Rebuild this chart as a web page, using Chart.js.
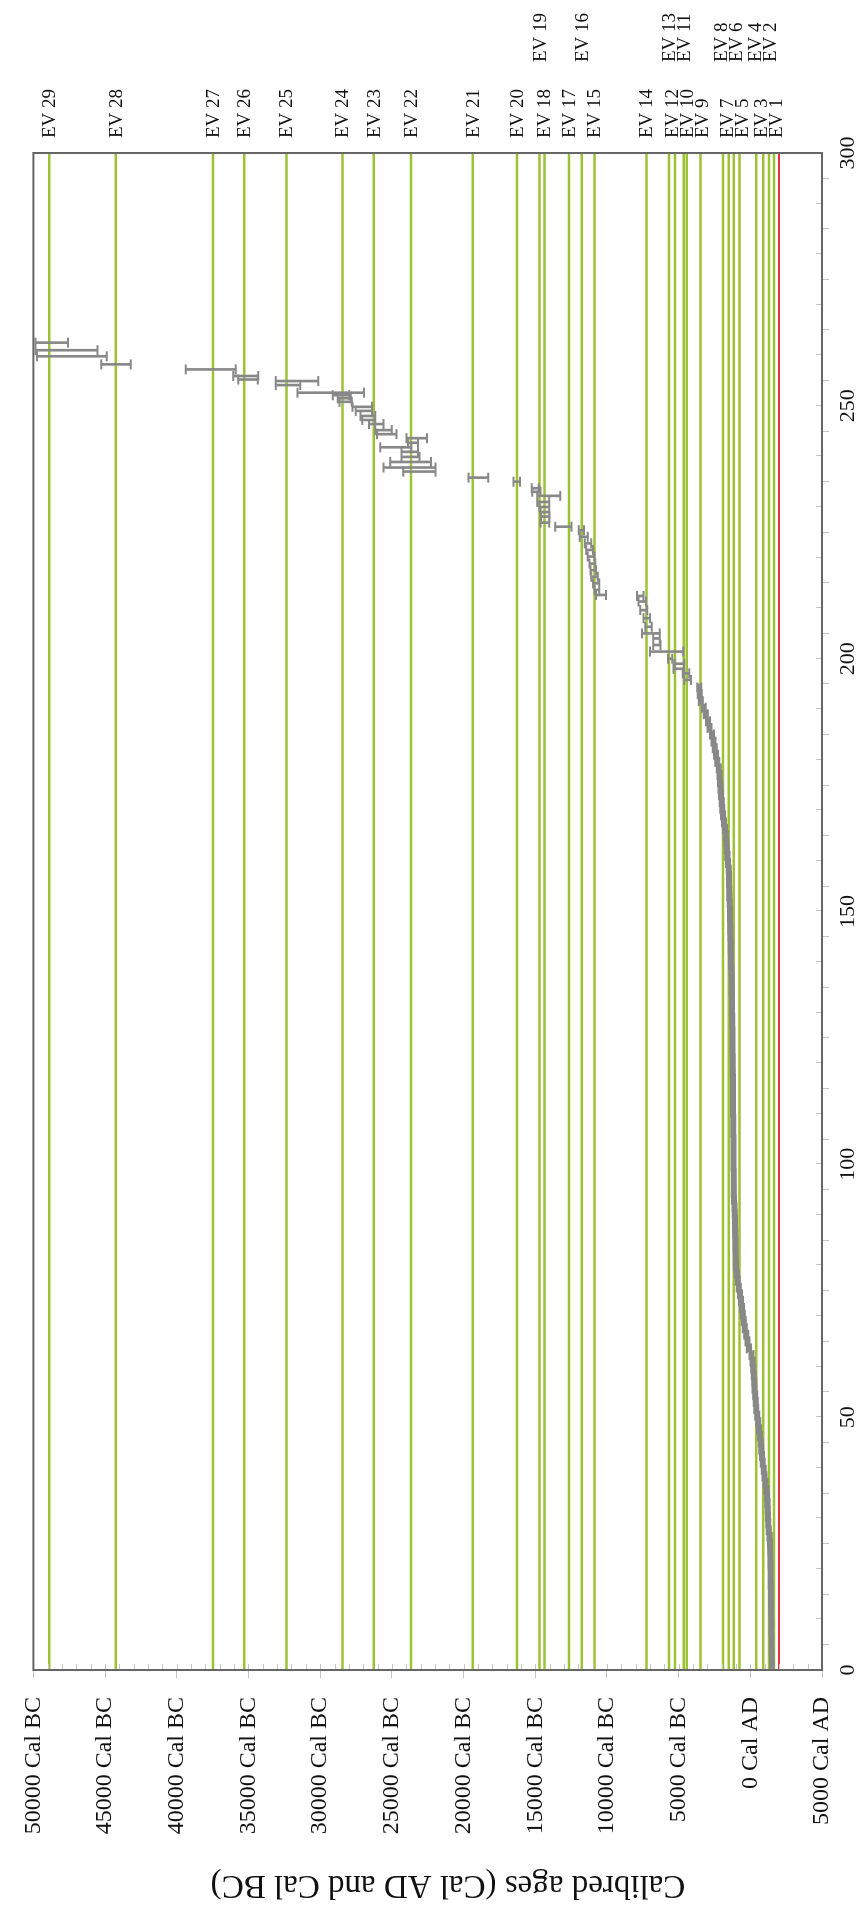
<!DOCTYPE html>
<html>
<head>
<meta charset="utf-8">
<script src="https://cdn.jsdelivr.net/npm/chart.js@4/dist/chart.umd.min.js"></script>
<style>
  html, body { margin: 0; padding: 0; overflow: hidden; background: #fff; width: 863px; height: 1908px; }
  #frame {
    position: absolute; left: 0; top: 0;
    width: 1908px; height: 863px;
    transform-origin: 0 0;
    transform: translateY(1908px) rotate(-90deg);
  }
</style>
</head>
<body>
<div id="frame"><canvas id="c" width="1908" height="863"></canvas></div>
<script>
// Core depth (cm) of each dated level and its calibrated age range.
// Ages are in years BC; negative values are years AD.
const depthCm = [
  1.0, 2.3, 3.6, 5.0, 6.3, 7.6, 9.0, 10.3, 11.6, 13.0, 14.3, 15.6, 17.0, 18.3, 19.6,
  21.0, 22.3, 23.6, 25.0, 26.3, 27.6, 29.0, 30.3, 31.6, 33.0, 34.3, 35.6, 37.0, 38.3, 39.6,
  41.0, 42.3, 43.6, 45.0, 46.3, 47.6, 49.0, 50.3, 51.6, 53.0, 54.3, 55.6, 57.0, 58.3, 59.6,
  61.0, 62.3, 63.6, 65.0, 66.3, 67.6, 69.0, 70.3, 71.6, 73.0, 74.3, 75.6, 77.0, 78.3, 79.6,
  81.0, 82.3, 83.6, 85.0, 86.3, 87.6, 89.0, 90.3, 91.6, 93.0, 94.3, 95.6, 97.0, 98.3, 99.6,
  101.0, 102.3, 103.6, 105.0, 106.3, 107.6, 109.0, 110.3, 111.6, 113.0, 114.3, 115.6, 117.0, 118.3, 119.6,
  121.0, 122.3, 123.6, 125.0, 126.3, 127.6, 129.0, 130.3, 131.6, 133.0, 134.3, 135.6, 137.0, 138.3, 139.6,
  141.0, 142.3, 143.6, 145.0, 146.3, 147.6, 149.0, 150.3, 151.6, 153.0, 154.3, 155.6, 157.0, 158.3, 159.6,
  161.0, 162.3, 163.6, 165.0, 166.3, 167.6, 169.0, 170.3, 171.6, 173.0, 174.3, 175.6, 177.0, 178.3, 179.6,
  181.0, 182.3, 183.6, 185.0, 186.3, 187.6, 189.0, 190.3, 191.6, 193.0, 194.3,
  195.8, 197.1, 198.0, 199.0, 200.0, 201.4, 202.7, 204.0, 205.0, 206.3,
  208.0, 209.6, 211.3, 212.4, 212.6, 213.6, 214.9, 216.2, 217.5, 218.8,
  220.2, 221.5, 222.8, 224.1, 225.4, 226.1, 226.9, 228.1, 229.0, 230.0,
  231.0, 232.2, 233.0, 233.7, 235.0, 235.8, 237.0, 237.8, 238.9, 239.9,
  240.9, 241.8, 242.7, 243.6, 244.4, 245.2, 246.4, 247.2, 248.0, 249.0,
  249.8, 250.8, 251.5, 252.1, 252.6, 254.1, 254.9, 255.2, 255.9, 257.2,
  258.2, 259.8, 261.0, 262.5
];
const ageOldest = [
  -1370, -1380, -1350, -1360, -1350, -1340, -1330, -1340, -1320, -1310, -1300, -1300, -1290, -1280, -1280,
  -1260, -1260, -1250, -1230, -1200, -1150, -1110, -1090, -1070, -1050, -1020, -980, -920, -850, -790,
  -730, -680, -630, -580, -530, -470, -410, -340, -280, -240, -200, -160, -130, -100, -60,
  -10, 60, 240, 340, 430, 520, 590, 660, 720, 790, 860, 940, 1020, 1090, 1130,
  1150, 1160, 1170, 1180, 1190, 1200, 1210, 1220, 1240, 1270, 1290, 1290, 1300, 1300, 1310,
  1310, 1320, 1320, 1320, 1330, 1330, 1330, 1340, 1340, 1340, 1350, 1350, 1350, 1360, 1370,
  1370, 1380, 1380, 1390, 1390, 1400, 1400, 1410, 1410, 1420, 1430, 1430, 1440, 1460, 1480,
  1490, 1500, 1510, 1520, 1530, 1540, 1550, 1560, 1580, 1600, 1610, 1620, 1630, 1650, 1690,
  1740, 1780, 1820, 1860, 1900, 1980, 2040, 2090, 2140, 2180, 2220, 2250, 2290, 2340, 2440,
  2540, 2620, 2700, 2820, 2990, 3090, 3240, 3390, 3590, 3670, 3700,
  4600, 4710, 5350, 5280, 5740, 6990, 6770, 6770, 7560, 7330,
  7450, 7680, 7790, 7900, 10760, 10870, 10980, 11100, 11140, 11210,
  11330, 11440, 11550, 11900, 11960, 13610, 14630, 14600, 14630, 14700,
  14860, 14860, 15200, 15250, 16520, 19650, 24210, 25580, 25120, 24320,
  24320, 25810, 23870, 23980, 26040, 26150, 26600, 27070, 27180, 27520,
  27750, 28660, 28770, 29120, 31580, 33100, 33100, 35720, 36060, 39380,
  45260, 49750, 49860, 49860
];
const ageYoungest = [
  -1630, -1610, -1620, -1600, -1600, -1590, -1600, -1580, -1580, -1580, -1570, -1560, -1560, -1550, -1540,
  -1540, -1530, -1520, -1510, -1490, -1430, -1390, -1370, -1350, -1330, -1300, -1260, -1200, -1130, -1070,
  -1010, -960, -910, -860, -810, -750, -690, -620, -560, -520, -480, -440, -410, -380, -340,
  -290, -220, -40, 60, 150, 240, 310, 380, 440, 510, 580, 660, 740, 810, 850,
  870, 880, 890, 900, 910, 920, 930, 940, 960, 990, 1010, 1010, 1020, 1020, 1030,
  1030, 1040, 1040, 1040, 1050, 1050, 1050, 1060, 1060, 1060, 1070, 1070, 1070, 1080, 1090,
  1090, 1100, 1100, 1110, 1110, 1120, 1120, 1130, 1130, 1140, 1150, 1150, 1160, 1180, 1200,
  1210, 1220, 1230, 1240, 1250, 1260, 1270, 1280, 1300, 1320, 1330, 1340, 1350, 1370, 1410,
  1460, 1500, 1540, 1580, 1620, 1700, 1760, 1810, 1860, 1900, 1940, 1970, 2010, 2060, 2160,
  2260, 2340, 2420, 2540, 2710, 2810, 2960, 3110, 3310, 3390, 3420,
  4140, 4260, 4600, 4600, 5450, 4670, 6260, 6310, 6310, 6880,
  6990, 7180, 7270, 7450, 10070, 10530, 10530, 10640, 10760, 10820,
  10870, 10980, 11100, 11330, 11600, 12470, 14020, 14000, 14020, 14020,
  14020, 13260, 14630, 14750, 16070, 18280, 21950, 21950, 22270, 23070,
  23180, 23640, 23180, 22550, 24670, 25010, 25580, 26150, 26150, 26380,
  26380, 27790, 27860, 27970, 26950, 31390, 30140, 34360, 34310, 35890,
  43210, 44890, 45530, 47590
];
// Below this depth the samples are so close that their ranges merge into one band.
const denseBelowCm = 195;

// Dated events shown as horizontal reference lines.
const eventNames = [
  'EV 1', 'EV 2', 'EV 3', 'EV 4', 'EV 5', 'EV 6', 'EV 7', 'EV 8', 'EV 9', 'EV 10',
  'EV 11', 'EV 12', 'EV 13', 'EV 14', 'EV 15', 'EV 16', 'EV 17', 'EV 18', 'EV 19', 'EV 20',
  'EV 21', 'EV 22', 'EV 23', 'EV 24', 'EV 25', 'EV 26', 'EV 27', 'EV 28', 'EV 29'
];
const eventAges = [
  -1650, -1300, -900, -420, 750, 1160, 1500, 1910, 3480, 4440,
  4650, 5260, 5670, 7240, 10870, 11760, 12650, 14360, 14700, 16270,
  19350, 23660, 26260, 28450, 32350, 35290, 37480, 44250, 48900
];
const surfaceAge = -2000;

// Axis ticks.
const ageTickValues = [50000, 45000, 40000, 35000, 30000, 25000, 20000, 15000, 10000, 5000, 0, -5000];
const ageTickLabels = ['50000 Cal BC', '45000 Cal BC', '40000 Cal BC', '35000 Cal BC', '30000 Cal BC',
  '25000 Cal BC', '20000 Cal BC', '15000 Cal BC', '10000 Cal BC', '5000 Cal BC', '0 Cal AD', '5000 Cal AD'];
const depthTickLabels = ['0', '50', '100', '150', '200', '250', '300'];
const axisTitle = 'Calibred ages (Cal AD and Cal BC)';

const SERIF = '"Liberation Serif", "Times New Roman", serif';
const GREEN = '#9bc334';
const GRAY = '#888888';

const densePoints = [], sparsePoints = [];
depthCm.forEach((d, i) => {
  const p = { x: d, y: [ageOldest[i], ageYoungest[i]] };
  (d < denseBelowCm ? densePoints : sparsePoints).push(p);
});

const eventDatasets = eventAges.map((a, i) => ({
  type: 'line',
  label: eventNames[i],
  data: [{ x: 0, y: a }, { x: 300, y: a }],
  borderColor: GREEN,
  borderWidth: 2.5,
  pointRadius: 0,
  order: 2
}));

const surfaceDataset = {
  type: 'line',
  label: 'surface',
  data: [{ x: 0, y: surfaceAge }, { x: 300, y: surfaceAge }],
  borderColor: '#e5313c',
  borderWidth: 2,
  pointRadius: 0,
  order: 2
};

// Caps at both ends of every age range bar.
const capsPlugin = {
  id: 'caps',
  afterDatasetsDraw(chart) {
    const ctx = chart.ctx;
    ctx.save();
    ctx.strokeStyle = GRAY;
    ctx.lineWidth = 2;
    ctx.beginPath();
    [0, 1].forEach(di => {
      chart.getDatasetMeta(di).data.forEach(bar => {
        const p = bar.getProps(['x', 'y', 'base'], true);
        ctx.moveTo(p.x - 5, p.y); ctx.lineTo(p.x + 5, p.y);
        ctx.moveTo(p.x - 5, p.base); ctx.lineTo(p.x + 5, p.base);
      });
    });
    ctx.stroke();
    ctx.restore();
  }
};

// Plot frame, inner minor ticks, axis title and event labels.
const decorPlugin = {
  id: 'decor',
  afterDraw(chart) {
    const { ctx, chartArea: a, scales } = chart;
    const xs = scales.x, ys = scales.y;
    ctx.save();

    // inner tick marks
    ctx.strokeStyle = '#c4c4c4';
    ctx.lineWidth = 1;
    ctx.beginPath();
    for (let v = -5000; v <= 50000; v += 1000) {
      const py = Math.round(ys.getPixelForValue(v)) + 0.5;
      ctx.moveTo(a.left, py); ctx.lineTo(a.left + 6, py);
    }
    for (let d = 0; d <= 300; d += 10) {
      const px = Math.round(xs.getPixelForValue(d)) + 0.5;
      ctx.moveTo(px, a.bottom); ctx.lineTo(px, a.bottom - 6);
    }
    ctx.stroke();

    // frame
    ctx.strokeStyle = '#666666';
    ctx.lineWidth = 2;
    ctx.strokeRect(a.left, a.top, a.right - a.left, a.bottom - a.top);

    // axis title
    ctx.fillStyle = '#111';
    ctx.font = '33px ' + SERIF;
    ctx.textAlign = 'center';
    ctx.textBaseline = 'middle';
    ctx.translate(23, 448);
    ctx.rotate(-Math.PI / 2);
    ctx.fillText(axisTitle, 0, 0);
    ctx.setTransform(1, 0, 0, 1, 0, 0);

    // event labels in two columns, spread apart where they crowd
    const outer = new Set(['EV 2', 'EV 4', 'EV 6', 'EV 8', 'EV 11', 'EV 13', 'EV 16', 'EV 19']);
    const gap = 15;
    const cols = [[], []];
    eventNames.forEach((n, i) => {
      cols[outer.has(n) ? 1 : 0].push({ n, y: ys.getPixelForValue(eventAges[i]) });
    });
    ctx.font = '19px ' + SERIF;
    ctx.textAlign = 'left';
    ctx.textBaseline = 'middle';
    cols.forEach((col, c) => {
      col.sort((p, q) => p.y - q.y);
      for (let k = 0; k < 60; k++) {
        for (let i = 0; i < col.length - 1; i++) {
          const diff = col[i + 1].y - col[i].y;
          if (diff < gap) {
            const s = (gap - diff) / 2;
            col[i].y -= s; col[i + 1].y += s;
          }
        }
      }
      const x0 = a.right + (c === 0 ? 15 : 91);
      col.forEach(p => ctx.fillText(p.n, x0, p.y + 1));
    });
    ctx.restore();
  }
};

new Chart(document.getElementById('c'), {
  data: {
    datasets: [
      {
        type: 'bar',
        label: 'calibrated ages',
        data: densePoints,
        backgroundColor: GRAY,
        barThickness: 7,
        grouped: false,
        order: 0
      },
      {
        type: 'bar',
        label: 'calibrated ages (deep)',
        data: sparsePoints,
        backgroundColor: GRAY,
        barThickness: 2,
        grouped: false,
        order: 0
      },
      ...eventDatasets,
      surfaceDataset
    ]
  },
  options: {
    responsive: false,
    devicePixelRatio: 1,
    animation: false,
    layout: { padding: { left: 0, right: 153, top: 18, bottom: 0 } },
    plugins: { legend: { display: false }, tooltip: { enabled: false }, title: { display: false } },
    scales: {
      x: {
        type: 'linear',
        position: 'bottom',
        min: 0, max: 300,
        offset: false,
        afterFit: s => { s.height = 41; },
        border: { display: false },
        grid: { drawOnChartArea: false, drawTicks: true, tickLength: 7, color: '#c4c4c4' },
        ticks: {
          stepSize: 10,
          autoSkip: false,
          maxRotation: 0,
          padding: 6,
          color: '#111',
          font: { family: SERIF, size: 22 },
          callback: v => (v % 50 === 0 ? depthTickLabels[v / 50] : '')
        }
      },
      y: {
        type: 'linear',
        position: 'left',
        min: -5000, max: 50000,
        afterFit: s => { s.width = 238; },
        border: { display: false },
        grid: { drawOnChartArea: false, drawTicks: true, tickLength: 8, color: '#c4c4c4' },
        afterBuildTicks: s => { s.ticks = ageTickValues.map(v => ({ value: v })); },
        ticks: {
          padding: 19,
          color: '#111',
          font: { family: SERIF, size: 24 },
          callback: v => ageTickLabels[ageTickValues.indexOf(v)]
        }
      }
    }
  },
  plugins: [capsPlugin, decorPlugin]
});
</script>
</body>
</html>
